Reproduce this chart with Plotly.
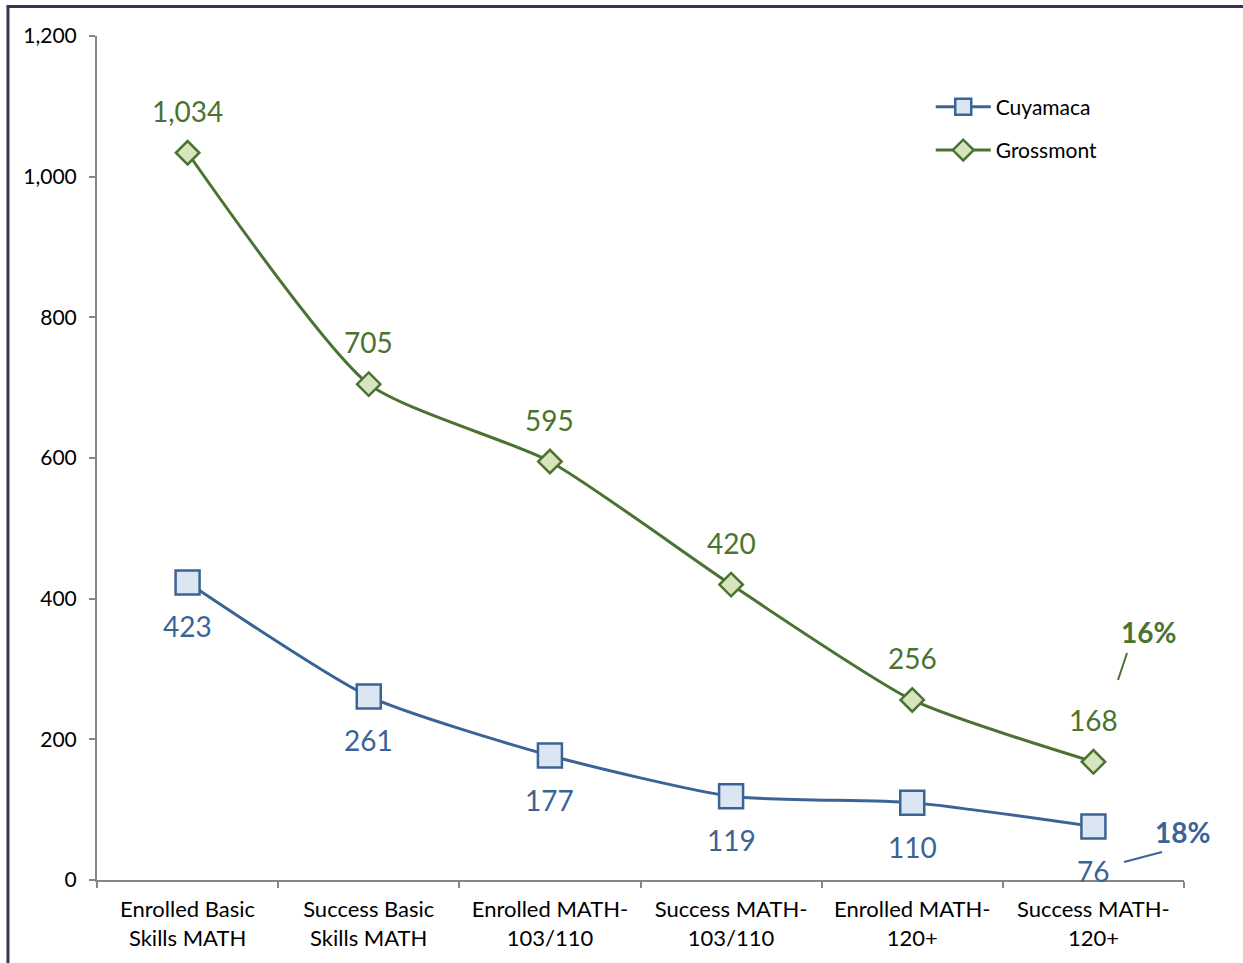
import plotly.graph_objects as go

categories = ["Enrolled Basic<br>Skills MATH", "Success Basic<br>Skills MATH",
              "Enrolled MATH-<br>103/110", "Success MATH-<br>103/110",
              "Enrolled MATH-<br>120+", "Success MATH-<br>120+"]
cuyamaca = [423, 261, 177, 119, 110, 76]
grossmont = [1034, 705, 595, 420, 256, 168]
y_ticks = [0, 200, 400, 600, 800, 1000, 1200]
y_tick_labels = ["0", "200", "400", "600", "800", "1,000", "1,200"]

BLUE = "#3A6496"
BLUE_FILL = "#DCE6F2"
GREEN = "#4A7331"
GREEN_FILL = "#D7E4BD"
FONT = "Lato"

fig = go.Figure()
fig.add_trace(go.Scatter(
    x=categories, y=cuyamaca, name="Cuyamaca", mode="lines+markers", legendgroup="a",
    line=dict(color=BLUE, width=3, shape="spline", smoothing=0.6),
    marker=dict(symbol="square", size=24, color=BLUE_FILL, line=dict(color=BLUE, width=2.5)),
))
fig.add_trace(go.Scatter(
    x=categories, y=grossmont, name="Grossmont", mode="lines+markers", legendgroup="b",
    line=dict(color=GREEN, width=3, shape="spline", smoothing=0.6),
    marker=dict(symbol="diamond", size=18, color=GREEN_FILL, line=dict(color=GREEN, width=2.5)),
))

annotations = []
for c, v in zip(categories, grossmont):
    annotations.append(dict(x=c, y=v, xref="x", yref="y", text=f"{v:,}", showarrow=False,
                            yshift=42, font=dict(family=FONT, size=28, color=GREEN)))
for c, v in zip(categories, cuyamaca):
    annotations.append(dict(x=c, y=v, xref="x", yref="y", text=f"{v:,}", showarrow=False,
                            yshift=-44, font=dict(family=FONT, size=28, color=BLUE)))
annotations.append(dict(x=0.967, y=0.294, xref="paper", yref="paper", text="<b>16%</b>",
                        xanchor="center", yanchor="middle",
                        showarrow=False, font=dict(family=FONT, size=28, color=GREEN)))
annotations.append(dict(x=0.999, y=0.057, xref="paper", yref="paper", text="<b>18%</b>",
                        xanchor="center", yanchor="middle",
                        showarrow=False, font=dict(family=FONT, size=28, color=BLUE)))

shapes = [
    dict(type="line", xref="paper", yref="paper", x0=0.9393, y0=0.237, x1=0.9476, y1=0.269,
         line=dict(color=GREEN, width=2)),
    dict(type="line", xref="paper", yref="paper", x0=0.9448, y0=0.0213, x1=0.9798, y1=0.0332,
         line=dict(color=BLUE, width=2)),
    dict(type="rect", xref="paper", yref="paper", x0=-0.0819, y0=-0.12, x1=1.12, y1=1.0349,
         line=dict(color="#3F3151", width=3), layer="below"),
]

fig.update_layout(
    width=1243, height=963,
    margin=dict(l=97, r=59, t=36, b=83),
    paper_bgcolor="white", plot_bgcolor="white",
    font=dict(family=FONT, size=21, color="black"),
    annotations=annotations, shapes=shapes,
    legend=dict(x=0.767, y=0.94, xanchor="left", yanchor="top",
                font=dict(family=FONT, size=21, color="black"),
                traceorder="grouped", tracegroupgap=13,
                bgcolor="rgba(0,0,0,0)", itemwidth=55),
    showlegend=True,
)
fig.update_xaxes(type="category", range=[-0.5, 5.5], showline=True, linecolor="#868686",
                 linewidth=2, ticks="outside", tickson="boundaries", ticklen=6, tickcolor="#868686",
                 tickwidth=2, showgrid=False, zeroline=False, ticklabelstandoff=9,
                 tickfont=dict(family=FONT, size=22, color="black"))
fig.update_yaxes(range=[0, 1200], tickvals=y_ticks, ticktext=y_tick_labels, showline=True,
                 linecolor="#868686", linewidth=2, ticks="outside", ticklen=6, tickcolor="#868686",
                 tickwidth=2, showgrid=False, zeroline=False, ticklabelstandoff=8,
                 tickfont=dict(family=FONT, size=21, color="black"))

fig.write_html("out.html", config={"displayModeBar": False},
               post_script="document.body.style.margin='0';")
